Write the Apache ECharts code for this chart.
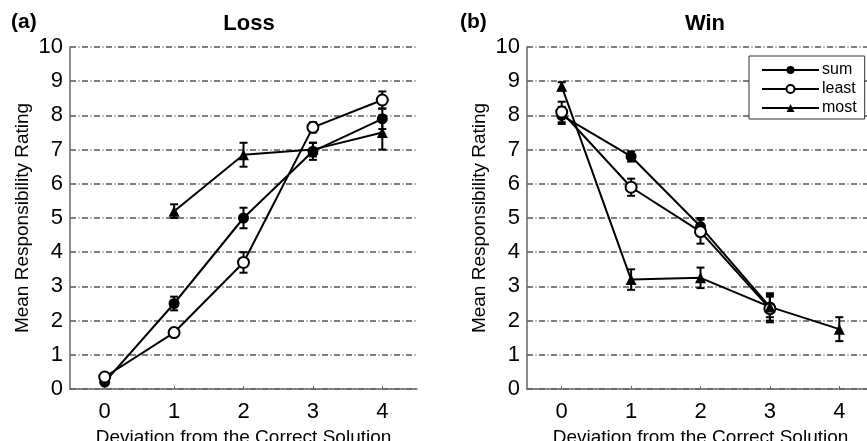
<!DOCTYPE html>
<html>
<head>
<meta charset="utf-8">
<script src="https://cdn.jsdelivr.net/npm/echarts@6/dist/echarts.min.js"></script>
<style>html,body{margin:0;padding:0;background:#fff;}#c{width:867px;height:441px;}</style>
</head>
<body>
<div id="c"></div>
<script>
var categories = ['0', '1', '2', '3', '4'];
var yTicks = [0, 10, 1];

// Loss panel
var lossSum = [0.2, 2.5, 5.0, 6.95, 7.9];
var lossSumErr = [0.05, 0.2, 0.3, 0.25, 0.3];
var lossLeast = [0.35, 1.65, 3.7, 7.65, 8.45];
var lossLeastErr = [0.1, 0.1, 0.3, 0.15, 0.25];
var lossMost = [null, 5.2, 6.85, 7.0, 7.5];
var lossMostErr = [null, 0.2, 0.35, 0.2, 0.5];

// Win panel
var winSum = [8.0, 6.8, 4.75, 2.4, null];
var winSumErr = [0.25, 0.15, 0.25, 0.4, null];
var winLeast = [8.1, 5.9, 4.6, 2.35, null];
var winLeastErr = [0.3, 0.25, 0.35, 0.4, null];
var winMost = [8.85, 3.2, 3.25, 2.4, 1.75];
var winMostErr = [0.12, 0.3, 0.3, 0.3, 0.35];

var FONT = 'Liberation Sans';

function errData(vals, errs) {
  var out = [];
  for (var i = 0; i < vals.length; i++) {
    if (vals[i] != null) out.push([i, vals[i] - errs[i], vals[i] + errs[i]]);
  }
  return out;
}

function errSeries(idx, vals, errs) {
  return {
    type: 'custom', xAxisIndex: idx, yAxisIndex: idx, z: 3,
    data: errData(vals, errs),
    renderItem: function (params, api) {
      var lo = api.coord([api.value(0), api.value(1)]);
      var hi = api.coord([api.value(0), api.value(2)]);
      var w = 4;
      var st = { stroke: '#000', lineWidth: 2 };
      return { type: 'group', children: [
        { type: 'line', shape: { x1: lo[0], y1: lo[1], x2: hi[0], y2: hi[1] }, style: st },
        { type: 'line', shape: { x1: lo[0] - w, y1: lo[1], x2: lo[0] + w, y2: lo[1] }, style: st },
        { type: 'line', shape: { x1: hi[0] - w, y1: hi[1], x2: hi[0] + w, y2: hi[1] }, style: st }
      ]};
    }
  };
}

function lineSeries(idx, name, vals, symbol, fill) {
  return {
    type: 'line', name: name, xAxisIndex: idx, yAxisIndex: idx, z: 4,
    data: vals, symbol: symbol, symbolSize: 11,
    showAllSymbol: true, connectNulls: false, animation: false,
    lineStyle: { color: '#000', width: 2 },
    itemStyle: { color: fill, borderColor: '#000', borderWidth: fill === '#fff' ? 2 : 0 }
  };
}

function xAxis(idx) {
  return {
    type: 'category', gridIndex: idx, data: categories, boundaryGap: true,
    axisLine: { show: true, lineStyle: { color: '#666', width: 1.5 } },
    axisTick: { show: true, alignWithLabel: true, inside: true, length: 3, lineStyle: { color: '#666' } },
    axisLabel: { color: '#000', fontSize: 22, fontFamily: FONT, margin: 12 },
    splitLine: { show: false },
    name: 'Deviation from the Correct Solution', nameLocation: 'middle', nameGap: 38,
    nameTextStyle: { color: '#000', fontSize: 19, fontFamily: FONT, verticalAlign: 'top' }
  };
}

function yAxis(idx) {
  return {
    type: 'value', gridIndex: idx, min: yTicks[0], max: yTicks[1], interval: yTicks[2],
    axisLine: { show: true, lineStyle: { color: '#666', width: 1.5 } },
    axisTick: { show: false },
    axisLabel: { color: '#000', fontSize: 22, fontFamily: FONT, margin: 7 },
    splitLine: { show: true, lineStyle: { color: '#555', width: 1.5, type: [6, 2.5, 1, 2.5] } },
    name: 'Mean Responsibility Rating', nameLocation: 'middle', nameGap: 38, nameRotate: 90,
    nameTextStyle: { color: '#000', fontSize: 19, fontFamily: FONT }
  };
}

var chart = echarts.init(document.getElementById('c'), null, { renderer: 'canvas' });
chart.setOption({
  animation: false,
  backgroundColor: '#fff',
  title: [
    { text: '(a)', left: 6, top: 7, textStyle: { fontSize: 21, fontWeight: 'bold', fontFamily: FONT, color: '#000' } },
    { text: 'Loss', left: 244, top: 8, textAlign: 'center', textStyle: { fontSize: 22, fontWeight: 'bold', fontFamily: FONT, color: '#000' } },
    { text: '(b)', left: 455, top: 7, textStyle: { fontSize: 21, fontWeight: 'bold', fontFamily: FONT, color: '#000' } },
    { text: 'Win', left: 700, top: 8, textAlign: 'center', textStyle: { fontSize: 22, fontWeight: 'bold', fontFamily: FONT, color: '#000' } }
  ],
  legend: {
    data: ['sum', 'least', 'most'],
    orient: 'vertical', left: 749, top: 56,
    borderColor: '#333', borderWidth: 1, padding: [6, 8, 3, 12],
    itemWidth: 57, itemHeight: 10, itemGap: 3,
    textStyle: { fontSize: 16, fontFamily: FONT, color: '#000', padding: [0, 0, 0, -2] },
    backgroundColor: '#fff', z: 10
  },
  grid: [
    { left: 70, top: 47, width: 347, height: 342, outerBoundsMode: 'none', containLabel: false },
    { left: 527, top: 47, width: 347, height: 342, outerBoundsMode: 'none', containLabel: false }
  ],
  xAxis: [xAxis(0), xAxis(1)],
  yAxis: [yAxis(0), yAxis(1)],
  series: [
    lineSeries(0, 'most', lossMost, 'triangle', '#000'),
    lineSeries(0, 'sum', lossSum, 'circle', '#000'),
    lineSeries(0, 'least', lossLeast, 'circle', '#fff'),
    errSeries(0, lossMost, lossMostErr),
    errSeries(0, lossSum, lossSumErr),
    errSeries(0, lossLeast, lossLeastErr),
    lineSeries(1, 'sum', winSum, 'circle', '#000'),
    lineSeries(1, 'least', winLeast, 'circle', '#fff'),
    lineSeries(1, 'most', winMost, 'triangle', '#000'),
    errSeries(1, winSum, winSumErr),
    errSeries(1, winLeast, winLeastErr),
    errSeries(1, winMost, winMostErr)
  ]
});
</script>
</body>
</html>
